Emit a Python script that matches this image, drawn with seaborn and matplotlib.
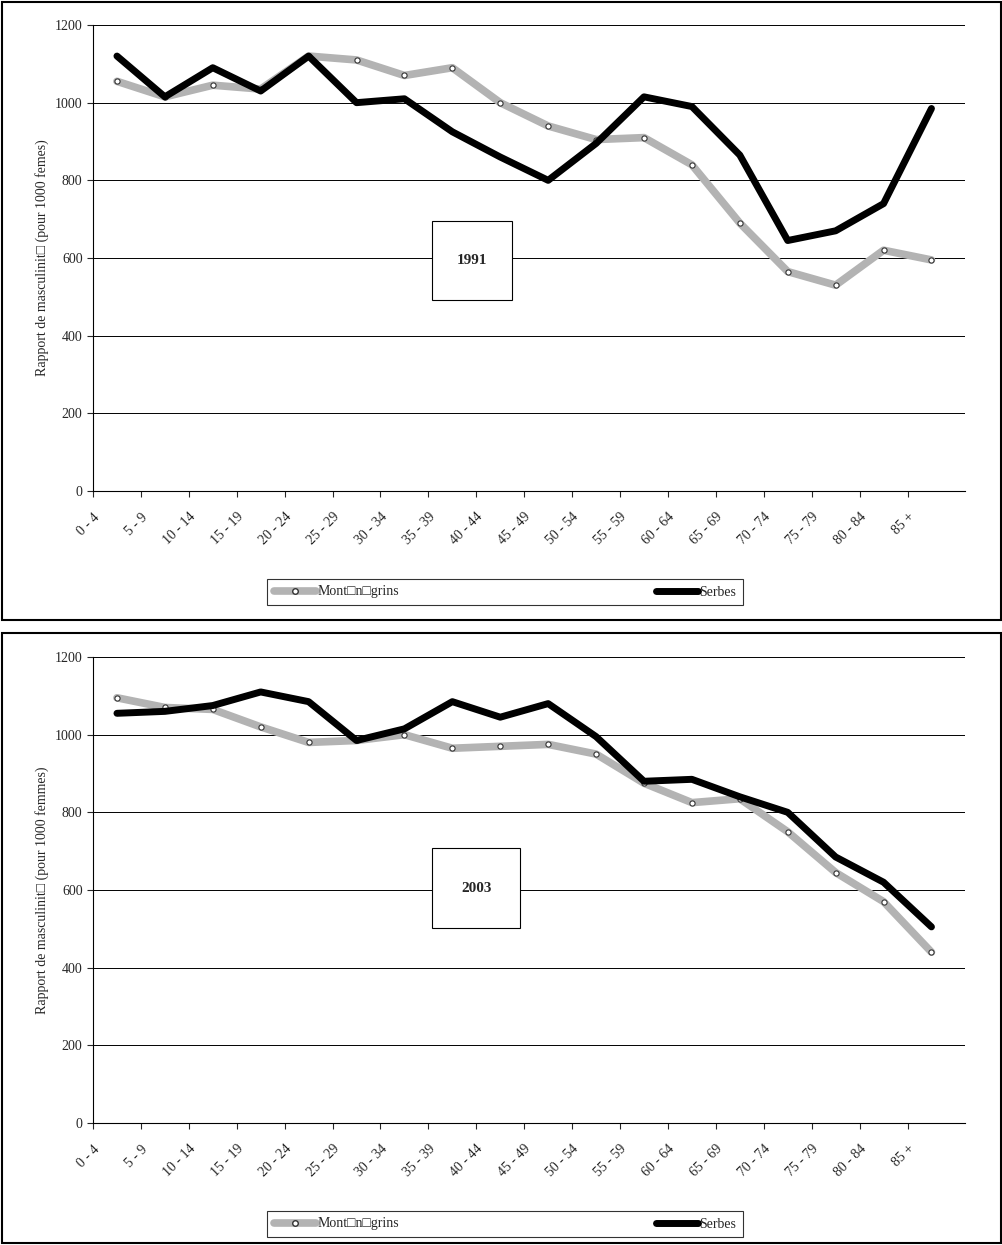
import numpy as np
import pandas as pd
import matplotlib
matplotlib.use("Agg")
import matplotlib.pyplot as plt
import seaborn as sns
from matplotlib.patches import Rectangle
from matplotlib.lines import Line2D

AGES = ["0 - 4", "5 - 9", "10 - 14", "15 - 19", "20 - 24", "25 - 29", "30 - 34", "35 - 39",
        "40 - 44", "45 - 49", "50 - 54", "55 - 59", "60 - 64", "65 - 69", "70 - 74",
        "75 - 79", "80 - 84", "85 +"]

MONT_1991 = [1055, 1015, 1045, 1035, 1120, 1110, 1070, 1090, 1000, 940, 905, 910, 840, 690, 565, 530, 620, 595]
SERB_1991 = [1120, 1015, 1090, 1030, 1120, 1000, 1010, 925, 860, 800, 895, 1015, 990, 865, 645, 670, 740, 985]
MONT_2003 = [1095, 1070, 1065, 1020, 980, 985, 1000, 965, 970, 975, 950, 875, 825, 835, 750, 645, 570, 440]
SERB_2003 = [1055, 1060, 1075, 1110, 1085, 985, 1015, 1085, 1045, 1080, 995, 880, 885, 840, 800, 685, 620, 505]

sns.set_style("white")
plt.rcParams["font.family"] = ["Liberation Serif", "DejaVu Sans"]

fig = plt.figure(figsize=(10.03, 12.45), dpi=100)
W, H = 1003, 1245

def panel(top_px, mont, serb, year, ylabel, box):
    ax = fig.add_axes([93 / W, 1 - (top_px + 466) / H, 872 / W, 466 / H])
    df = pd.DataFrame({"x": np.arange(len(AGES)), "mont": mont, "serb": serb})
    sns.lineplot(data=df, x="x", y="mont", ax=ax, color="#b3b3b3", lw=5.5, zorder=3)
    sns.scatterplot(data=df, x="x", y="mont", ax=ax, marker="o", s=14, color="white",
                    edgecolor="#333333", linewidth=0.8, zorder=4)
    sns.lineplot(data=df, x="x", y="serb", ax=ax, color="black", lw=5, zorder=5)
    ax.set_xlim(-0.5, 17.7)
    ax.set_ylim(0, 1200)
    ax.set_yticks(range(0, 1201, 200))
    ax.yaxis.grid(True, color="black", lw=0.7)
    ax.set_axisbelow(True)
    ax.set_xticks(np.arange(len(AGES)) - 0.5)
    ax.set_xticklabels(AGES, rotation=45, ha="right", rotation_mode="anchor", fontsize=10)
    ax.tick_params(axis="x", bottom=True, length=4, direction="out", pad=10)
    ax.tick_params(axis="y", left=True, length=4, direction="out", labelsize=10)
    for s in ["top", "right"]:
        ax.spines[s].set_visible(False)
    ax.spines["left"].set_color("black")
    ax.spines["bottom"].set_color("black")
    ax.set_xlabel("")
    ax.set_ylabel(ylabel, fontsize=10)
    x0, x1, y0, y1 = box
    ax.add_patch(Rectangle((x0, y0), x1 - x0, y1 - y0, transform=ax.transAxes,
                           facecolor="white", edgecolor="black", lw=0.8, zorder=6))
    ax.text((x0 + x1) / 2, (y0 + y1) / 2, year, transform=ax.transAxes, ha="center",
            va="center", fontsize=11, fontweight="bold", zorder=7)
    return ax

def frame(top_px, bot_px):
    fig.add_artist(Rectangle((2 / W, 1 - bot_px / H), (W - 4) / W, (bot_px - top_px) / H,
                             transform=fig.transFigure, fill=False, edgecolor="black", lw=1.5))

def legend(center_px):
    handles = [Line2D([], [], color="#b3b3b3", lw=5.5, marker="o", markersize=4,
                      markerfacecolor="white", markeredgecolor="#333333"),
               Line2D([], [], color="black", lw=5)]
    leg = fig.legend(handles, ["Mont\u25a1n\u25a1grins", "Serbes"], ncol=2,
                     loc="center", bbox_to_anchor=(505 / W, 1 - center_px / H),
                     frameon=True, fancybox=False, edgecolor="black", fontsize=10,
                     handlelength=3, handletextpad=0.1, columnspacing=18.5,
                     borderpad=0.5, borderaxespad=0)
    leg.get_frame().set_linewidth(0.8)

frame(2, 620)
frame(633, 1243)
panel(25, MONT_1991, SERB_1991, "1991", "Rapport de masculinit\u25a1 (pour 1000 femes)",
      (0.389, 0.48, 0.41, 0.58))
panel(657, MONT_2003, SERB_2003, "2003", "Rapport de masculinit\u25a1 (pour 1000 femmes)",
      (0.389, 0.49, 0.418, 0.59))
legend(592)
legend(1224)

fig.savefig("out.png", dpi=100)
